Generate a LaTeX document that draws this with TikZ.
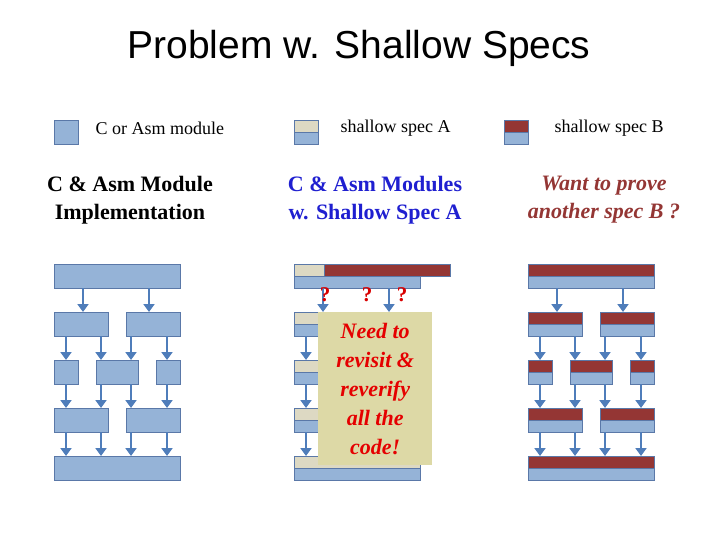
\documentclass[tikz,border=0pt]{standalone}
\usepackage{fontspec}
\setmainfont{Liberation Serif}
\newfontfamily\titlefont{Liberation Sans}
\usetikzlibrary{arrows.meta}
\definecolor{mblue}{HTML}{95B3D7}
\definecolor{mborder}{HTML}{5A78A8}
\definecolor{marrow}{HTML}{4F7DBA}
\definecolor{specA}{HTML}{DDD9C3}
\definecolor{specB}{HTML}{943634}
\definecolor{notebg}{HTML}{DDD9A6}
\definecolor{headblue}{HTML}{1F1FD0}
\tikzset{
  x=1pt,y=-1pt,
  mod/.style={draw=mborder,fill=mblue,line width=0.8pt,anchor=north west,inner sep=0pt,minimum height=24pt},
  half/.style={path picture={\fill[#1] (path picture bounding box.north west) rectangle (path picture bounding box.east);
     \draw[mborder,line width=0.8pt] (path picture bounding box.west) -- (path picture bounding box.east);}},
  arr/.style={marrow,line width=2.4pt,-{Triangle[width=11pt,length=8pt]}},
  lab/.style={anchor=west,font=\fontsize{18}{20}\selectfont},
  head/.style={align=center,font=\bfseries\fontsize{22}{28}\selectfont}
}
% #1 offset, #2 prefix, #3 extra style
\newcommand{\modcol}[3]{
  \begin{scope}[xshift=#1pt]
  \node[mod,#3,minimum width=126pt] (#2a) at (54,264) {};
  \node[mod,#3,minimum width=54pt] (#2b) at (54,312) {};
  \node[mod,#3,minimum width=54pt] (#2c) at (126,312) {};
  \node[mod,#3,minimum width=24pt] (#2d) at (54,360) {};
  \node[mod,#3,minimum width=42pt] (#2e) at (96,360) {};
  \node[mod,#3,minimum width=24pt] (#2f) at (156,360) {};
  \node[mod,#3,minimum width=54pt] (#2g) at (54,408) {};
  \node[mod,#3,minimum width=54pt] (#2h) at (126,408) {};
  \node[mod,#3,minimum width=126pt] (#2i) at (54,456) {};
  \draw[arr] (83,288) -- (83,312);
  \draw[arr] (149,288) -- (149,312);
  \foreach \yy in {336,384,432}{
    \foreach \xx in {66,101,131,167}{\draw[arr] (\xx,\yy) -- (\xx,\yy+24);}}
  \end{scope}}
\begin{document}
\begin{tikzpicture}
\useasboundingbox (0,0) rectangle (720,540);
\node[font=\titlefont\fontsize{39}{42}\selectfont] (title) at (359,48) {Problem w. Shallow Specs};
% legend
\node[mod,minimum width=24pt] (L1) at (54,120) {};
\node[lab] (L1t) at (92,128) {C or Asm module};
\node[mod,half=specA,minimum width=24pt] (L2) at (294,120) {};
\node[lab] (L2t) at (337,128) {shallow spec A};
\node[mod,half=specB,minimum width=24pt] (L3) at (504,120) {};
\node[lab] (L3t) at (551,128) {shallow spec B};
% headings
\node[head] (H1) at (130,200) {C \& Asm Module\\Implementation};
\node[head,text=headblue] (H2) at (375,200) {C \& Asm Modules\\w. Shallow Spec A};
\node[head,text=specB,font=\bfseries\itshape\fontsize{22}{28}\selectfont] (H3) at (604,200) {Want to prove\\another spec B ?};
% columns
\modcol{0}{p}{}
\modcol{240}{q}{half=specA}
\modcol{474}{r}{half=specB}
\fill[specB] (324,264) rectangle (450,276);
\draw[mborder,line width=0.8pt] (324,264) rectangle (450,276);
\foreach \xx/\nm in {325/qa,367/qb,402/qc}{\node[text=red!85!black,font=\bfseries\fontsize{21}{22}\selectfont] (\nm) at (\xx,295) {?};}
\node[fill=notebg,anchor=north west,minimum width=114pt,minimum height=153pt,inner sep=0pt,
  align=center,text=red!90!black,font=\bfseries\itshape\fontsize{22}{29}\selectfont] (note) at (318,312)
  {Need to\\revisit \&\\reverify\\all the\\code!};
\end{tikzpicture}
\end{document}
